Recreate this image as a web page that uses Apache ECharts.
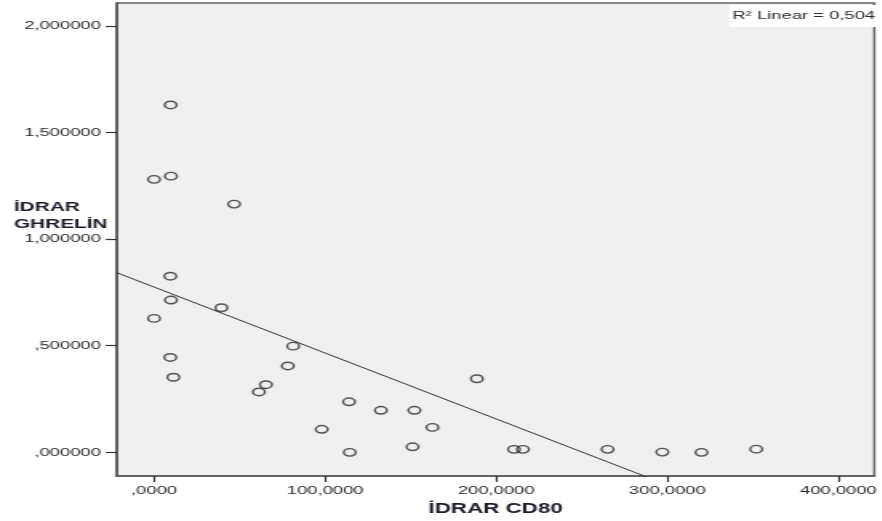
<!DOCTYPE html>
<html>
<head>
<meta charset="utf-8">
<script src="https://cdn.jsdelivr.net/npm/echarts@6/dist/echarts.min.js"></script>
<style>
html, body { margin: 0; padding: 0; background: #fff; overflow: hidden; }
/* the source picture is stretched sideways, so draw narrow and stretch */
#main { width: 551.25px; height: 521px; transform: scaleX(1.6); transform-origin: 0 0; }
</style>
</head>
<body>
<div id="main"></div>
<script>
// İDRAR CD80 (x) and İDRAR GHRELİN (y)
var cd80 = [9.7, 0, 9.9, 46.8, 9.5, 9.9, 39.4, 0, 9.5, 11.3, 81.3, 78.2, 65.4, 61.3,
	114, 132.6, 152.2, 162.7, 98, 151.1, 114.4, 188.7, 210.4, 215.6, 265.1, 297.1, 320, 352];
var ghrelin = [1.629, 1.280, 1.295, 1.164, 0.826, 0.714, 0.678, 0.628, 0.445, 0.352, 0.498, 0.405, 0.317, 0.283,
	0.237, 0.197, 0.197, 0.117, 0.108, 0.026, 0.000, 0.345, 0.014, 0.014, 0.014, 0.001, 0.000, 0.015];
var xTicks = [0, 100, 200, 300, 400];
var yTicks = [0, 0.5, 1, 1.5, 2];
// fit line as drawn (R2 = 0,504)
var fitIntercept = 0.775;
var fitSlope = -0.003093;
var xMin = -21.7, xMax = 421;
var yMin = -0.111, yMax = 2.107;

var points = [];
for (var i = 0; i < cd80.length; i++) {
	points.push([cd80[i], ghrelin[i]]);
}
var fitLine = [
	[xMin, fitIntercept + fitSlope * xMin],
	[xMax, fitIntercept + fitSlope * xMax]
];

function fmt(v, d) {
	var s = v.toFixed(d).replace('.', ',');
	if (s.indexOf('0,') === 0) s = s.substring(1);
	return s;
}

var myChart = echarts.init(document.getElementById('main'));
myChart.setOption({
	backgroundColor: '#fff',
	animation: false,
	grid: {
		left: 73.1, right: 2.5, top: 3, bottom: 45,
		show: true,
		backgroundColor: '#f0f0f0',
		borderColor: '#666',
		borderWidth: 1.5
	},
	xAxis: {
		type: 'value',
		min: xMin, max: xMax,
		name: 'İDRAR CD80',
		nameLocation: 'middle',
		nameGap: 26,
		nameTextStyle: { fontFamily: 'Arial, Liberation Sans', fontWeight: 'bold', fontSize: 14, color: '#1c1c2a' },
		axisLine: { show: true, onZero: false, lineStyle: { color: '#555', width: 1.5 } },
		axisTick: { show: true, length: 6, customValues: xTicks, lineStyle: { color: '#333', width: 1.2 } },
		axisLabel: {
			customValues: xTicks, margin: 9,
			fontFamily: 'Arial, Liberation Sans', fontSize: 11.5, color: '#2a2a2a',
			formatter: function (v) { return fmt(v, 4); }
		},
		splitLine: { show: false }
	},
	yAxis: {
		type: 'value',
		min: yMin, max: yMax,
		axisLine: { show: true, onZero: false, lineStyle: { color: '#555', width: 1.5 } },
		axisTick: { show: true, length: 7, customValues: yTicks, lineStyle: { color: '#333', width: 1.2 } },
		axisLabel: {
			customValues: yTicks, margin: 10,
			fontFamily: 'Arial, Liberation Sans', fontSize: 11.5, color: '#2a2a2a',
			formatter: function (v) { return fmt(v, 6); }
		},
		splitLine: { show: false }
	},
	graphic: [
		{
			type: 'text', left: 8.75, top: 199,
			style: {
				text: 'İDRAR\nGHRELİN',
				font: 'bold 13px Arial, Liberation Sans',
				fill: '#1c1c2a',
				lineHeight: 17
			}
		},
		{
			type: 'text', right: 3, top: 5,
			style: {
				text: 'R² Linear = 0,504',
				font: '11.5px Arial, Liberation Sans',
				fill: '#2a2a2a',
				backgroundColor: '#fff',
				padding: [5, 1, 5, 2]
			}
		}
	],
	series: [
		{
			type: 'line',
			data: fitLine,
			showSymbol: false,
			symbol: 'none',
			clip: true,
			lineStyle: { color: '#333', width: 1 },
			z: 2
		},
		{
			type: 'scatter',
			data: points,
			symbol: 'circle',
			symbolSize: 7.5,
			itemStyle: { color: 'rgba(0,0,0,0)', borderColor: '#2a2a2a', borderWidth: 1.4 },
			z: 3
		}
	]
});
</script>
</body>
</html>
